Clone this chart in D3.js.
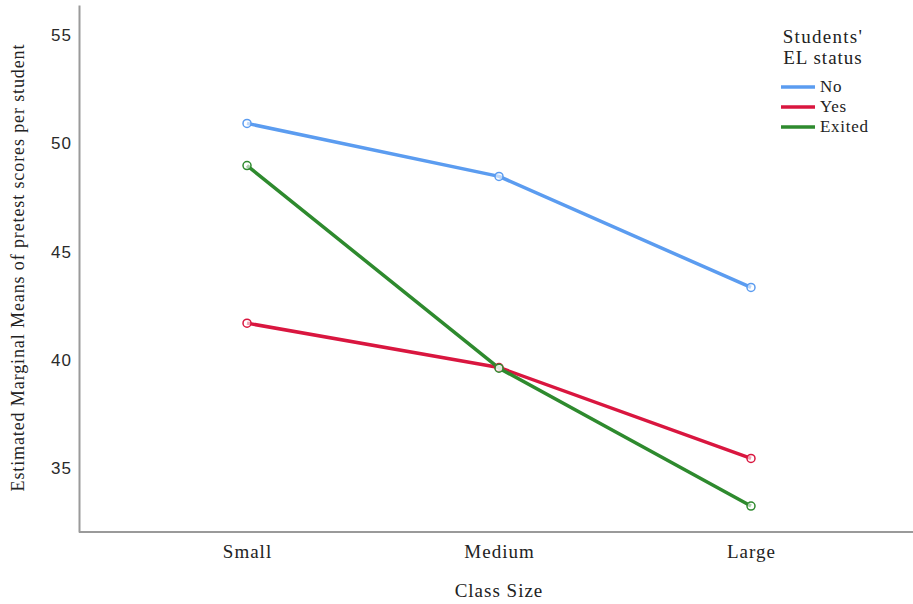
<!DOCTYPE html>
<html><head><meta charset="utf-8">
<script src="https://cdn.jsdelivr.net/npm/d3@7"></script>
<style>body{margin:0;background:#fff}</style>
</head><body>
<svg id="c" width="913" height="604"></svg>
<script>
const categories = ["Small", "Medium", "Large"];
const seriesNames = ["No", "Yes", "Exited"];
const valuesNo = [50.93, 48.48, 43.35];
const valuesYes = [41.7, 39.65, 35.45];
const valuesExited = [48.98, 39.62, 33.25];
const yTicks = [35, 40, 45, 50, 55];
const colors = ["#5b9cf0", "#d9163f", "#2e8a2e"];
const seriesValues = [valuesNo, valuesYes, valuesExited];

const serif = "Liberation Serif, Times New Roman, serif";
const svg = d3.select("#c");
const x = d3.scalePoint().domain(categories).range([79, 919]).padding(0.6667);
const y = d3.scaleLinear().domain([32.05, 56.4]).range([532, 5]);

// axes
const gy = svg.append("g").attr("transform", "translate(79,0)")
  .call(d3.axisLeft(y).tickValues(yTicks).tickSize(0).tickPadding(7));
gy.select(".domain").attr("stroke", "#9a9a9a").attr("stroke-width", 2);
gy.selectAll("text").attr("font-family", "Liberation Sans, Arial, sans-serif").attr("font-size", 17)
  .attr("letter-spacing", 1).attr("fill", "#2a2a2a");

const gx = svg.append("g").attr("transform", "translate(0,532)")
  .call(d3.axisBottom(x).tickSize(0).tickPadding(13));
gx.select(".domain").attr("d", "M79,0H913").attr("stroke", "#9a9a9a").attr("stroke-width", 2);
gx.selectAll("text").attr("font-family", serif).attr("font-size", 19).attr("letter-spacing", 1).attr("fill", "#222");

// titles
svg.append("text").attr("x", 499).attr("y", 597).attr("text-anchor", "middle")
  .attr("font-family", serif).attr("font-size", 19).attr("letter-spacing", 1).attr("fill", "#222").text("Class Size");
svg.append("text").attr("transform", "translate(24,268) rotate(-90)").attr("text-anchor", "middle")
  .attr("font-family", serif).attr("font-size", 18).attr("fill", "#222")
  .attr("textLength", 447).attr("lengthAdjust", "spacing")
  .text("Estimated Marginal Means of pretest scores per student");

// lines
const line = d3.line().x((d, i) => x(categories[i])).y(d => y(d));
seriesValues.forEach((vals, s) => {
  svg.append("path").datum(vals).attr("d", line).attr("fill", "none")
    .attr("stroke", colors[s]).attr("stroke-width", 3.5).attr("stroke-linejoin", "round");
});
seriesValues.forEach((vals, s) => {
  svg.selectAll(null).data(vals).enter().append("circle")
    .attr("cx", (d, i) => x(categories[i])).attr("cy", d => y(d)).attr("r", 4)
    .attr("fill", "#fff").attr("fill-opacity", 0.6).attr("stroke", colors[s]).attr("stroke-width", 1.5);
});

// legend
const lg = svg.append("g");
lg.append("text").attr("x", 823).attr("y", 43).attr("text-anchor", "middle")
  .attr("font-family", serif).attr("font-size", 19).attr("letter-spacing", 1.3).attr("fill", "#222").text("Students'");
lg.append("text").attr("x", 823).attr("y", 64).attr("text-anchor", "middle")
  .attr("font-family", serif).attr("font-size", 19).attr("letter-spacing", 1).attr("fill", "#222").text("EL status");
seriesNames.forEach((n, i) => {
  const yy = 87 + i * 20;
  lg.append("line").attr("x1", 781).attr("x2", 815).attr("y1", yy).attr("y2", yy)
    .attr("stroke", colors[i]).attr("stroke-width", 3.5);
  lg.append("text").attr("x", 820).attr("y", yy + 5)
    .attr("font-family", serif).attr("font-size", 17).attr("letter-spacing", 0.7).attr("fill", "#222").text(n);
});
</script>
</body></html>
